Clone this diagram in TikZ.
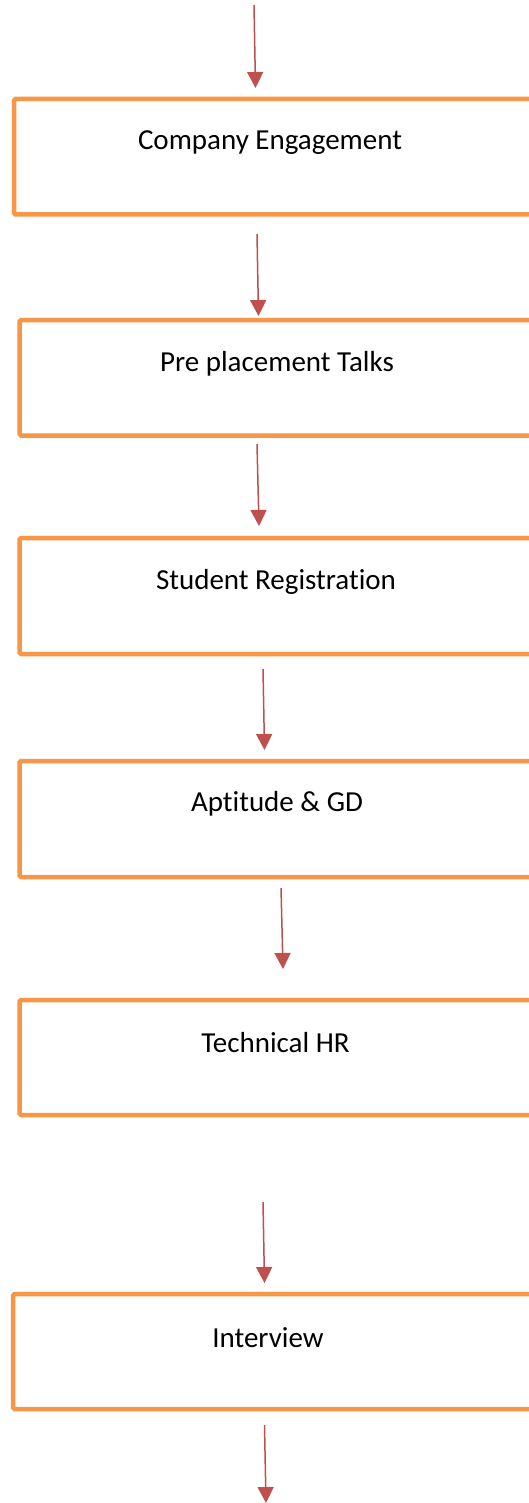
\documentclass[tikz,border=0pt]{standalone}
\usepackage{fontspec}
\setmainfont{Carlito}[Ligatures=NoCommon]
\usetikzlibrary{arrows.meta}
\definecolor{boxorange}{HTML}{F79646}
\definecolor{arrowred}{HTML}{C0504D}
\tikzset{
  stepbox/.style={draw=boxorange, line width=4.5pt, rounded corners=1.5pt, rectangle, inner sep=0pt, outer sep=0pt, minimum width=526pt},
  steplabel/.style={font=\fontsize{29}{35}\selectfont, text=black, inner sep=0pt},
  flowarrow/.style={draw=arrowred, line width=1.5pt, -{Triangle[width=16pt,length=16pt]}}
}
\begin{document}
\begin{tikzpicture}[x=1pt,y=-1pt]
\useasboundingbox (0,0) rectangle (528,1503);
\fill[white] (0,0) rectangle (528,1503);
% boxes
\node[stepbox, minimum height=115.5pt] (b1) at (277,156.75) {};
\node[stepbox, minimum height=115.5pt] (b2) at (282.5,377.75) {};
\node[stepbox, minimum height=116pt] (b3) at (282.5,596) {};
\node[stepbox, minimum height=116pt] (b4) at (282.5,819) {};
\node[stepbox, minimum height=115pt] (b5) at (282.5,1057.5) {};
\node[stepbox, minimum height=115pt] (b6) at (276,1351.5) {};
% labels
\node[steplabel] (t1) at (270,143) {Company Engagement};
\node[steplabel] (t2) at (277,364) {Pre placement Talks};
\node[steplabel] (t3) at (276,582) {Student Registration};
\node[steplabel] (t4) at (277,804) {Aptitude \& GD};
\node[steplabel] (t5) at (275.5,1043) {Technical HR};
\node[steplabel] (t6) at (268,1338) {Interview};
% arrow ends
\coordinate (a0s) at (254,5);     \coordinate (a0e) at (255.5,88);
\coordinate (a1s) at (257,234);   \coordinate (a1e) at (258.5,316);
\coordinate (a2s) at (257,444);   \coordinate (a2e) at (259,526);
\coordinate (a3s) at (263,669);   \coordinate (a3e) at (264.5,750);
\coordinate (a4s) at (281,888);   \coordinate (a4e) at (283,969);
\coordinate (a5s) at (263,1202);  \coordinate (a5e) at (264.5,1283);
\coordinate (a6s) at (264.5,1425);\coordinate (a6e) at (266,1503);
\draw[flowarrow] (a0s) -- (a0e);
\draw[flowarrow] (a1s) -- (a1e);
\draw[flowarrow] (a2s) -- (a2e);
\draw[flowarrow] (a3s) -- (a3e);
\draw[flowarrow] (a4s) -- (a4e);
\draw[flowarrow] (a5s) -- (a5e);
\draw[flowarrow] (a6s) -- (a6e);
\end{tikzpicture}
\end{document}
